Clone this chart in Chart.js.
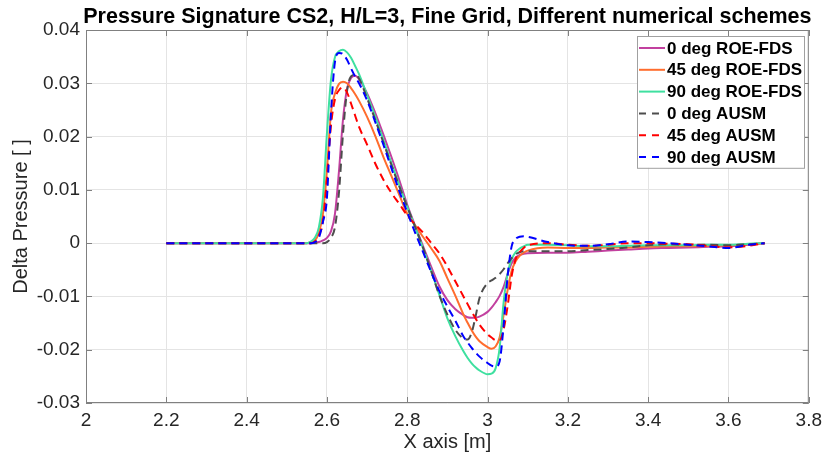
<!DOCTYPE html>
<html>
<head>
<meta charset="utf-8">
<script src="https://cdn.jsdelivr.net/npm/chart.js@4.4.1/dist/chart.umd.min.js"></script>
<style>
  html, body { margin: 0; padding: 0; background: #fff; }
  #wrap { width: 828px; height: 456px; }
</style>
</head>
<body>
<div id="wrap"><canvas id="psChart" width="828" height="456"></canvas></div>
<script>
// x position along the signature [m], shared by all six runs
const xPos = [2.2, 2.55, 2.56, 2.57, 2.58, 2.59, 2.60, 2.61, 2.62, 2.63, 2.64, 2.65, 2.66, 2.67, 2.68,
  2.70, 2.72, 2.74, 2.76, 2.78, 2.80, 2.82, 2.84, 2.86,
  2.88, 2.90, 2.92, 2.94, 2.95, 2.96, 2.97, 2.98,
  3.00, 3.01, 3.02, 3.03, 3.04, 3.05, 3.06, 3.07, 3.08, 3.09, 3.10,
  3.15, 3.20, 3.25, 3.30, 3.35, 3.40, 3.45, 3.50, 3.55, 3.60, 3.65, 3.69];

// delta pressure for each run
const roe0 = [0, 0, 0, 0.0001, 0.0002, 0.0005, 0.001, 0.0022, 0.0055, 0.0135, 0.0232, 0.0289, 0.031, 0.0314, 0.0308,
  0.0281, 0.0245, 0.0205, 0.0163, 0.0119, 0.0072, 0.0032, -0.0007, -0.0045,
  -0.0081, -0.0107, -0.0124, -0.0135, -0.0139, -0.014, -0.014, -0.0138,
  -0.0129, -0.0121, -0.0111, -0.0099, -0.0082, -0.0058, -0.0038, -0.0027, -0.0022, -0.002, -0.0019,
  -0.0018, -0.0018, -0.0016, -0.0014, -0.0012, -0.001, -0.0009, -0.0008, -0.0007, -0.0006, -0.0003, 0];
const roe45 = [0, 0, 0.0002, 0.0005, 0.002, 0.0055, 0.0137, 0.0244, 0.0281, 0.0299, 0.0303, 0.030, 0.0291, 0.028, 0.0267,
  0.0237, 0.0202, 0.0163, 0.0127, 0.0091, 0.0055, 0.0033, 0.0011, -0.001,
  -0.0033, -0.0066, -0.0099, -0.0134, -0.0149, -0.0163, -0.0175, -0.0184,
  -0.0195, -0.0198, -0.0194, -0.0177, -0.0135, -0.0088, -0.0052, -0.0034, -0.0024, -0.0018, -0.0014,
  -0.0008, -0.0009, -0.0009, -0.0008, -0.0008, -0.0007, -0.0006, -0.0006, -0.0005, -0.0004, -0.0002, 0];
const roe90 = [0, 0, 0.0003, 0.001, 0.003, 0.0085, 0.0206, 0.0306, 0.0349, 0.036, 0.0363, 0.0358, 0.0348, 0.0333, 0.0317,
  0.0278, 0.0238, 0.0195, 0.0151, 0.0109, 0.0068, 0.0029, -0.0011, -0.0053,
  -0.0097, -0.0141, -0.0175, -0.0203, -0.0215, -0.0225, -0.0233, -0.0239,
  -0.0246, -0.0245, -0.0235, -0.0197, -0.0111, -0.0057, -0.003, -0.0017, -0.001, -0.0006, -0.0003,
  -0.0003, -0.0004, -0.0006, -0.0006, -0.0005, -0.0004, -0.0004, -0.0004, -0.0003, -0.0003, -0.0001, 0];
const ausm0 = [0, 0, 0, 0, 0, 0, 0.0002, 0.001, 0.003, 0.0095, 0.0205, 0.0285, 0.0313, 0.0316, 0.0309,
  0.0272, 0.0232, 0.019, 0.0148, 0.0107, 0.0068, 0.003, -0.001, -0.0053,
  -0.0098, -0.0134, -0.0163, -0.0179, -0.0181, -0.0169, -0.0138, -0.0103,
  -0.0075, -0.007, -0.0065, -0.0058, -0.0049, -0.0038, -0.0028, -0.0021, -0.0017, -0.0015, -0.0015,
  -0.0015, -0.0015, -0.0013, -0.0011, -0.0008, -0.0004, -0.0002, -0.0003, -0.0003, -0.0004, -0.0002, 0];
const ausm45 = [0, 0, 0, 0.0003, 0.0015, 0.004, 0.012, 0.022, 0.027, 0.0287, 0.0292, 0.0283, 0.0262, 0.024, 0.0218,
  0.0185, 0.015, 0.012, 0.0095, 0.0074, 0.0052, 0.0035, 0.0019, 0,
  -0.0019, -0.0044, -0.0072, -0.01, -0.0114, -0.0128, -0.0141, -0.0153,
  -0.0171, -0.0177, -0.0182, -0.0182, -0.0162, -0.0118, -0.0062, -0.003, -0.0017, -0.0009, -0.0004,
  0, -0.0003, -0.0005, -0.0003, 0, 0, -0.0001, -0.0002, -0.0005, -0.0008, -0.0005, 0];
const ausm90 = [0, 0, 0, 0.0002, 0.001, 0.004, 0.0085, 0.0244, 0.034, 0.0357, 0.0355, 0.0344, 0.0328, 0.0313, 0.030,
  0.0268, 0.0228, 0.0186, 0.0142, 0.0098, 0.0058, 0.0019, -0.0018, -0.0055,
  -0.009, -0.0119, -0.0146, -0.0175, -0.0186, -0.0196, -0.0205, -0.0213,
  -0.0225, -0.023, -0.0232, -0.0222, -0.0155, -0.0062, -0.0006, 0.0008, 0.0012, 0.0013, 0.0012,
  0.0002, -0.0004, -0.0005, -0.0002, 0.0003, 0.0002, 0, -0.0003, -0.0006, -0.0009, -0.0003, 0];

const seriesNames = ["0 deg ROE-FDS", "45 deg ROE-FDS", "90 deg ROE-FDS", "0 deg AUSM", "45 deg AUSM", "90 deg AUSM"];
const seriesValues = [roe0, roe45, roe90, ausm0, ausm45, ausm90];

//Line styles
const seriesColors = ['#c2409f', '#ff6d2e', '#3fe0a0', '#4d4d4d', '#ff0000', '#0000ff'];
const dashed = [false, false, false, true, true, true];

const FONT = "'Liberation Sans', Arial, sans-serif";

const datasets = seriesNames.map((name, i) => ({
    label: name,
    data: xPos.map((x, k) => ({x: x, y: seriesValues[i][k]})),
    borderColor: seriesColors[i],
    backgroundColor: seriesColors[i],
    borderWidth: 2,
    borderDash: dashed[i] ? [8, 5] : [],
    pointRadius: 0,
    fill: false,
    cubicInterpolationMode: 'monotone',
    order: seriesNames.length - i   // later runs drawn on top, like the original plot
}));

//Box, inner ticks, title and legend drawn over the plot
const framePlugin = {
    id: 'frame',
    afterDraw(chart) {
        const {ctx, chartArea: a, scales} = chart;
        ctx.save();

        // axes box
        ctx.strokeStyle = '#808080';
        ctx.lineWidth = 1;
        ctx.strokeRect(a.left + 0.5, a.top + 0.5, a.right - a.left - 1, a.bottom - a.top - 1);

        // tick marks pointing into the plot
        ctx.beginPath();
        scales.x.ticks.forEach(t => {
            const px = Math.round(scales.x.getPixelForValue(t.value)) + 0.5;
            ctx.moveTo(px, a.bottom); ctx.lineTo(px, a.bottom - 6);
            ctx.moveTo(px, a.top); ctx.lineTo(px, a.top + 6);
        });
        scales.y.ticks.forEach(t => {
            const py = Math.round(scales.y.getPixelForValue(t.value)) + 0.5;
            ctx.moveTo(a.left, py); ctx.lineTo(a.left + 6, py);
            ctx.moveTo(a.right, py); ctx.lineTo(a.right - 6, py);
        });
        ctx.stroke();

        // title
        ctx.fillStyle = '#000';
        ctx.font = 'bold 21.5px ' + FONT;
        ctx.textAlign = 'center';
        ctx.textBaseline = 'middle';
        ctx.fillText('Pressure Signature CS2, H/L=3, Fine Grid, Different numerical schemes', (a.left + a.right) / 2, 17);

        // legend
        const bx = 637, by = 36, bw = 167, rowH = 21.8;
        const bh = rowH * chart.data.datasets.length + 1;
        ctx.fillStyle = '#fff';
        ctx.fillRect(bx, by, bw, bh);
        ctx.strokeStyle = '#a0a0a0';
        ctx.strokeRect(bx + 0.5, by + 0.5, bw, bh);
        ctx.font = 'bold 17px ' + FONT;
        ctx.textAlign = 'left';
        chart.data.datasets.forEach((ds, i) => {
            const cy = by + 12 + i * rowH;
            ctx.strokeStyle = ds.borderColor;
            ctx.lineWidth = 2;
            ctx.setLineDash(ds.borderDash.length ? [7, 6] : []);
            ctx.beginPath();
            ctx.moveTo(bx + 2, cy); ctx.lineTo(bx + 28, cy);
            ctx.stroke();
            ctx.setLineDash([]);
            ctx.fillStyle = '#000';
            ctx.fillText(ds.label, bx + 30, cy + 1);
        });
        ctx.restore();
    }
};

const chart = new Chart(document.getElementById('psChart').getContext('2d'), {
    type: 'line',
    data: {datasets},
    options: {
        responsive: false,
        animation: false,
        layout: {padding: {top: 30, right: 16, left: 0, bottom: 0}},
        plugins: {
            legend: {display: false},
            tooltip: {enabled: false}
        },
        scales: {
            x: {
                type: 'linear',
                min: 2, max: 3.8,
                afterFit: s => { s.height = 53; },
                ticks: {stepSize: 0.2, padding: 6, color: '#262626', font: {family: FONT, size: 19},
                        callback: v => String(+v.toFixed(1))},
                grid: {color: '#e4e4e4', drawTicks: false},
                border: {display: false},
                title: {display: true, text: 'X axis [m]', color: '#262626',
                        font: {family: FONT, size: 20}, padding: {top: 0, bottom: 2}}
            },
            y: {
                min: -0.03, max: 0.04,
                afterFit: s => { s.width = 86; },
                ticks: {stepSize: 0.01, padding: 6, color: '#262626', font: {family: FONT, size: 19},
                        callback: v => String(+v.toFixed(2))},
                grid: {color: '#e4e4e4', drawTicks: false},
                border: {display: false},
                title: {display: true, text: 'Delta Pressure [ ]', color: '#262626',
                        font: {family: FONT, size: 20}, padding: {top: 9, bottom: 0}}
            }
        }
    },
    plugins: [framePlugin]
});
</script>
</body>
</html>
